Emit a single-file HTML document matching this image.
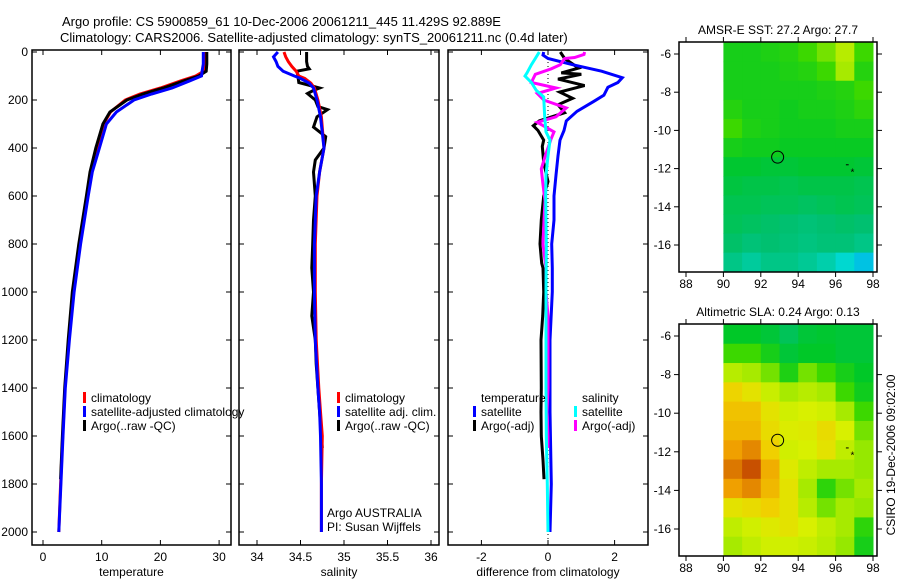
<!DOCTYPE html>
<html><head><meta charset="utf-8"><style>
html,body{margin:0;padding:0;background:#fff;}
svg{display:block;font-family:"Liberation Sans",sans-serif;}
</style></head><body>
<svg id="fig" width="900" height="580" viewBox="0 0 900 580" xmlns="http://www.w3.org/2000/svg">
<text x="62" y="26" font-size="13">Argo profile: CS 5900859_61 10-Dec-2006 20061211_445 11.429S 92.889E</text>
<text x="60" y="42" font-size="13">Climatology: CARS2006. Satellite-adjusted climatology: synTS_20061211.nc (0.4d later)</text>
<g id="p1"></g>
<g id="p2"></g>
<g id="p3"></g>
<g id="m1"></g>
<g id="m2"></g>
<text transform="translate(895,455) rotate(-90)" text-anchor="middle" font-size="12">CSIRO 19-Dec-2006 09:02:00</text>
</svg>
<script>
// ---- temperature data ----
const tempDepth = [0,50,80,100,120,150,175,200,250,300,400,500,600,800,1000,1200,1400,1600,1800,2000];
const tempClim = [27.6,27.6,27.4,26,23.5,20,16.5,14,11.5,10.3,9.2,8.2,7.5,6.2,5.1,4.4,3.75,3.35,3.0,2.7];
const tempSat = [27.3,27.3,27.1,27,25,22,18.5,15.5,12.5,10.8,9.6,8.4,7.7,6.4,5.3,4.5,3.8,3.4,3.05,2.7];
const tempArgoDepth = [0,50,80,100,120,150,175,200,250,300,400,500,600,800,1000,1200,1400,1600,1780];
const tempArgo = [27.9,27.9,27.8,26.5,24,20.5,17,14.3,11.4,10.2,9.0,8.0,7.4,6.1,5.0,4.3,3.7,3.3,3.0];
// ---- salinity data ----
const salDepth = [0,20,40,60,80,100,110,130,150,200,270,400,500,600,800,1000,1200,1400,1500,1600,1800,2000];
const salClim = [34.31,34.33,34.36,34.40,34.45,34.48,34.55,34.62,34.66,34.70,34.74,34.77,34.72,34.69,34.67,34.67,34.68,34.71,34.73,34.75,34.74,34.74];
const salSat = [34.24,34.19,34.22,34.24,34.3,34.43,34.5,34.6,34.65,34.69,34.73,34.77,34.72,34.68,34.66,34.66,34.67,34.70,34.72,34.73,34.74,34.74];
const salArgoDepth = [0,40,60,70,80,100,127,150,160,173,200,227,240,270,313,353,400,450,500,600,700,800,900,1000,1100,1200,1300,1400,1500,1600,1650];
const salArgo = [34.57,34.57,34.58,34.6,34.46,34.47,34.48,34.72,34.65,34.58,34.67,34.7,34.81,34.69,34.65,34.79,34.77,34.67,34.65,34.67,34.65,34.64,34.63,34.65,34.63,34.67,34.68,34.70,34.72,34.74,34.75];
// ---- difference data ----
const tDiffSatDepth = [0,13,27,53,80,107,127,147,180,207,247,287,327,367,433,513,600,700,800,900,1000,1200,1500,1800,2000];
const tDiffSat = [-0.13,-0.15,0,0.74,1.61,2.23,2.1,1.8,1.68,1.36,0.87,0.55,0.48,0.36,0.3,0.24,0.18,0.18,0.11,0.13,0.13,0.06,0.06,0.1,0.06];
const tDiffArgoDepth = [0,27,67,87,93,113,140,167,193,220,253,287,307,327,367,393,460,540,600,700,800,880,900,1000,1100,1200,1400,1500,1600,1700,1780];
const tDiffArgo = [0.37,0.5,0.92,0.4,1.0,0.3,1.1,0.35,0.74,0.3,0.5,-0.26,-0.44,-0.3,-0.13,-0.17,-0.13,0,-0.13,-0.2,-0.24,-0.19,-0.15,-0.13,-0.16,-0.21,-0.2,-0.21,-0.2,-0.15,-0.12];
const sDiffArgoDepth = [0,10,23,27,53,70,93,127,150,173,200,233,270,293,333,360,427,487,553,620,700,800,900,1000,1100,1200,1400,1500,1600,1650];
const sDiffArgo = [1.1,1.08,0.8,0.5,0.37,0.1,-0.38,-0.5,0.24,-0.32,-0.13,0.55,0.24,-0.32,0.18,0.1,-0.07,-0.2,-0.15,-0.09,-0.12,-0.15,-0.06,-0.06,0,0,0,-0.03,0,0];
const sDiffSatDepth = [0,27,53,87,100,127,160,187,270,333,367,433,513,600,800,1000,1200,1400,1600,1800,2000];
const sDiffSat = [-0.26,-0.38,-0.5,-0.63,-0.69,-0.5,-0.35,-0.13,-0.1,-0.06,0.06,0,-0.06,-0.07,-0.05,-0.06,-0.06,-0.06,-0.05,-0.02,0];
// ---- ticks ----
const depthTicks = [0,200,400,600,800,1000,1200,1400,1600,1800,2000];
const tempTicks = [0,10,20,30];
const salTicks = [34,34.5,35,35.5,36];
const salTickLabels = ["34","34.5","35","35.5","36"];
const diffTicks = [-2,0,2];
const lonTicks = [88,90,92,94,96,98];
const latTicks = [-6,-8,-10,-12,-14,-16];
// ---- map grids (normalised colour value, rows from north, 1deg cells 90..98E) ----
const sstGrid = [
[0.45,0.45,0.46,0.47,0.5,0.55,0.62,0.5],
[0.45,0.45,0.45,0.46,0.47,0.5,0.6,0.47],
[0.45,0.45,0.45,0.45,0.45,0.46,0.47,0.5],
[0.47,0.45,0.45,0.44,0.45,0.45,0.46,0.48],
[0.5,0.46,0.45,0.44,0.44,0.44,0.45,0.45],
[0.45,0.44,0.44,0.43,0.43,0.43,0.43,0.43],
[0.41,0.41,0.4,0.4,0.41,0.41,0.41,0.4],
[0.39,0.38,0.38,0.37,0.38,0.38,0.38,0.37],
[0.37,0.37,0.36,0.36,0.35,0.36,0.37,0.36],
[0.36,0.35,0.34,0.33,0.32,0.33,0.34,0.33],
[0.34,0.32,0.33,0.32,0.31,0.32,0.32,0.30],
[0.3,0.27,0.3,0.3,0.28,0.25,0.2,0.12]];
const slaGrid = [
[0.42,0.42,0.4,0.36,0.4,0.41,0.4,0.4],
[0.5,0.5,0.45,0.4,0.42,0.42,0.4,0.4],
[0.62,0.6,0.55,0.46,0.55,0.5,0.45,0.42],
[0.74,0.7,0.64,0.6,0.62,0.6,0.5,0.44],
[0.78,0.78,0.7,0.65,0.66,0.65,0.6,0.5],
[0.8,0.8,0.72,0.67,0.68,0.72,0.66,0.55],
[0.85,0.88,0.75,0.65,0.66,0.7,0.63,0.58],
[0.9,0.95,0.82,0.68,0.63,0.6,0.6,0.58],
[0.85,0.88,0.8,0.7,0.6,0.48,0.55,0.6],
[0.7,0.72,0.75,0.7,0.62,0.55,0.6,0.58],
[0.63,0.65,0.68,0.7,0.66,0.63,0.6,0.48],
[0.6,0.63,0.65,0.65,0.64,0.62,0.58,0.45]];
const argoLon = 92.9, argoLat = -11.4;

const NS='http://www.w3.org/2000/svg';
function mk(parent, tag, attrs){const e=document.createElementNS(NS,tag);for(const k in attrs)e.setAttribute(k,attrs[k]);parent.appendChild(e);return e;}
function txt(parent,x,y,s,anchor,size){const t=mk(parent,'text',{x:x,y:y,'font-size':size||12,'text-anchor':anchor||'start'});t.textContent=s;return t;}

const top0=52, pxPerM=0.24, boxTop=50, boxBot=545;
const yD = d => top0 + d*pxPerM;

function panel(g, x0, x1, xScale, xt, xtl, label, yLabels, name){
  const box=mk(g,'rect',{x:x0,y:boxTop,width:x1-x0,height:boxBot-boxTop,fill:'none',stroke:'#000','stroke-width':1.5});
  
  
  xt.forEach((v,i)=>{
    const x=xScale(v);
    mk(g,'line',{x1:x,x2:x,y1:boxBot,y2:boxBot-5,stroke:'#000'});
    mk(g,'line',{x1:x,x2:x,y1:boxTop,y2:boxTop+5,stroke:'#000'});
    const t=txt(g,x,561,xtl[i],'middle',12);
    
    
  });
  depthTicks.forEach(d=>{
    mk(g,'line',{x1:x0,x2:x0+5,y1:yD(d),y2:yD(d),stroke:'#000'});
    mk(g,'line',{x1:x1,x2:x1-5,y1:yD(d),y2:yD(d),stroke:'#000'});
    if(yLabels){
      const t=txt(g,x0-4,yD(d)+4,String(d),'end',12);
      
      
    }
  });
  const xl=txt(g,(x0+x1)/2,576,label,'middle',12);
  
  
}
function line(g, depths, vals, xScale, color, name){
  const pts=depths.map((d,i)=>xScale(vals[i]).toFixed(1)+','+yD(d).toFixed(1)).join(' ');
  const p=mk(g,'polyline',{points:pts,fill:'none',stroke:color,'stroke-width':3,'stroke-linejoin':'miter'});
  
  
}
function legend(g, x, y, color, label){
  mk(g,'rect',{x:x,y:y-10,width:3,height:11,fill:color});
  const t=txt(g,x+8,y,label,'start',12);
  
  
}

// Panel 1: temperature
const p1=document.getElementById('p1');
const xT = v => 43 + v*5.87;
panel(p1,32,231,xT,tempTicks,tempTicks.map(String),'temperature',true,'temperature');
line(p1,tempDepth,tempClim,xT,'#ff0000','temp-climatology-line');
line(p1,tempArgoDepth,tempArgo,xT,'#000000','temp-argo-line');
line(p1,tempDepth,tempSat,xT,'#0000ff','temp-satellite-line');
legend(p1,83,402,'#ff0000','climatology');
legend(p1,83,416,'#0000ff','satellite-adjusted climatology');
legend(p1,83,430,'#000000','Argo(..raw -QC)');

// Panel 2: salinity
const p2=document.getElementById('p2');
const xS = v => 257 + (v-34)*87;
panel(p2,239,439,xS,salTicks,salTickLabels,'salinity',false,'salinity');
line(p2,salArgoDepth,salArgo,xS,'#000000','sal-argo-line');
line(p2,salDepth,salClim,xS,'#ff0000','sal-climatology-line');
line(p2,salDepth,salSat,xS,'#0000ff','sal-satellite-line');
legend(p2,337,402,'#ff0000','climatology');
legend(p2,337,416,'#0000ff','satellite adj. clim.');
legend(p2,337,430,'#000000','Argo(..raw -QC)');
const a1=txt(p2,327,517,'Argo AUSTRALIA','start',12);


const a2=txt(p2,327,531,'PI: Susan Wijffels','start',12);



// Panel 3: differences
const p3=document.getElementById('p3');
const xD = v => 548 + v*33.3;
panel(p3,448,648,xD,diffTicks,diffTicks.map(String),'difference from climatology',false,'difference');
const zl=mk(p3,'line',{x1:xD(0),x2:xD(0),y1:boxTop,y2:boxBot,stroke:'#000','stroke-dasharray':'1,3'});


line(p3,tDiffArgoDepth,tDiffArgo,xD,'#000000','temp-argo-diff-line');
line(p3,tDiffSatDepth,tDiffSat,xD,'#0000ff','temp-satellite-diff-line');
line(p3,sDiffArgoDepth,sDiffArgo,xD,'#ff00ff','sal-argo-diff-line');
line(p3,sDiffSatDepth,sDiffSat,xD,'#00ffff','sal-satellite-diff-line');
const lt=txt(p3,481,402,'temperature','start',12);


const ls=txt(p3,582,402,'salinity','start',12);


legend(p3,473,416,'#0000ff','satellite');
legend(p3,473,430,'#000000','Argo(-adj)');
legend(p3,574,416,'#00ffff','satellite');
legend(p3,574,430,'#ff00ff','Argo(-adj)');

// colormap
const cstops=[[0.0,[0,160,255]],[0.2,[0,216,208]],[0.33,[0,192,112]],[0.42,[0,200,40]],[0.5,[60,216,0]],[0.58,[150,232,0]],[0.66,[216,240,0]],[0.75,[240,208,0]],[0.85,[240,160,0]],[0.95,[200,80,0]],[1.0,[170,50,0]]];
function cmap(v){
  for(let i=1;i<cstops.length;i++){if(v<=cstops[i][0]){const a=cstops[i-1],b=cstops[i];const t=(v-a[0])/(b[0]-a[0]);const c=a[1].map((x,k)=>Math.round(x+(b[1][k]-x)*t));return 'rgb('+c.join(',')+')';}}
  return 'rgb(170,50,0)';
}
function map(g, top, bot, latPx, lat6y, grid, title, name){
  const lonX = lon => 686 + (lon-88)*18.7;
  const latY = lat => lat6y + (-6-lat)*latPx;
  const tt=txt(g,778,top-8,title,'middle',12);
  
  
  const n0=latY(-5.4);
  grid.forEach((row,r)=>row.forEach((v,c)=>{
    const y0=Math.max(top, latY(-5.4-r)), y1=Math.min(bot, latY(-6.4-r)+0.5);
    const x0=lonX(90+c), x1=Math.min(877, lonX(91+c)+0.5);
    const cell=mk(g,'rect',{x:x0,y:y0,width:x1-x0,height:Math.max(0,y1-y0),fill:cmap(v)});
    
    
  }));
  const fr=mk(g,'rect',{x:679,y:top,width:198,height:bot-top,fill:'none',stroke:'#000','stroke-width':1.5});
  
  
  lonTicks.forEach(l=>{
    const x=lonX(l);
    mk(g,'line',{x1:x,x2:x,y1:bot,y2:bot+5,stroke:'#000'});
    mk(g,'line',{x1:x,x2:x,y1:top,y2:top-5,stroke:'#000'});
    const t=txt(g,x,bot+16,String(l),'middle',12);
    
    
  });
  latTicks.forEach(l=>{
    const y=latY(l);
    mk(g,'line',{x1:679,x2:674,y1:y,y2:y,stroke:'#000'});
    mk(g,'line',{x1:877,x2:882,y1:y,y2:y,stroke:'#000'});
    const t=txt(g,671,y+4,String(l),'end',12);
    
    
  });
  const c=mk(g,'circle',{cx:lonX(argoLon),cy:latY(argoLat),r:6,fill:'none',stroke:'#000','stroke-width':1});
  
  
  mk(g,'text',{x:lonX(96.9),y:latY(-12.15)+4,'font-size':10,'text-anchor':'middle'}).textContent='*';
  mk(g,'line',{x1:lonX(96.55),x2:lonX(96.7),y1:latY(-11.8),y2:latY(-11.8),stroke:'#000'});
}
map(document.getElementById('m1'),42,272,19.1,54,sstGrid,'AMSR-E SST: 27.2 Argo: 27.7','sst-map');
map(document.getElementById('m2'),324,556,19.3,336,slaGrid,'Altimetric SLA: 0.24 Argo: 0.13','sla-map');
</script>
</body></html>
